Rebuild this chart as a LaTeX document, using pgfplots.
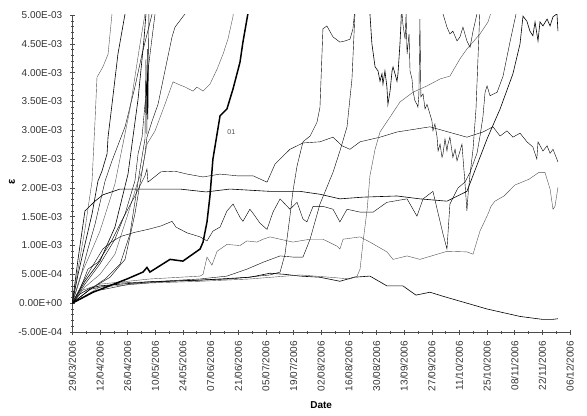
\documentclass[border=0pt]{standalone}
\usepackage{pgfplots}
\pgfplotsset{compat=1.18}
\usepackage{fontspec}
\setmainfont{Liberation Sans}
\definecolor{ln}{HTML}{505050}
\begin{document}
\begin{tikzpicture}[x=1bp,y=1bp]
\path[use as bounding box] (-72.3bp,-84bp) rectangle (514.7bp,332bp);
\begin{axis}[
  at={(0,0)}, anchor=south west,
  scale only axis, width=497.7bp, height=317bp,
  xmin=0, xmax=252, ymin=-0.0005, ymax=0.005,
  scaled y ticks=false, scaled x ticks=false,
  axis x line*=bottom, axis y line*=left,
  axis line style={-, black!70, line width=0.6bp},
  tick align=center,
  major tick length=5bp, minor tick length=3bp,
  every tick/.style={black!70, line width=0.5bp},
  xtick={0,14,...,252},
  xticklabels={29/03/2006,12/04/2006,26/04/2006,10/05/2006,24/05/2006,07/06/2006,21/06/2006,05/07/2006,19/07/2006,02/08/2006,16/08/2006,30/08/2006,13/09/2006,27/09/2006,11/10/2006,25/10/2006,08/11/2006,22/11/2006,06/12/2006},
  minor x tick num=1,
  ytick={-0.0005,0,0.0005,0.001,0.0015,0.002,0.0025,0.003,0.0035,0.004,0.0045,0.005},
  yticklabels={-5.00E-04,0.00E+00,5.00E-04,1.00E-03,1.50E-03,2.00E-03,2.50E-03,3.00E-03,3.50E-03,4.00E-03,4.50E-03,5.00E-03},
  minor y tick num=4,
  xticklabel shift=3bp, yticklabel shift=4bp,
  xticklabel style={rotate=90, anchor=east, font=\fontsize{10bp}{11bp}\selectfont, text=black!80},
  yticklabel style={font=\fontsize{10bp}{11bp}\selectfont, text=black!80},
  xlabel={\textbf{Date}}, ylabel={\textbf{ε}},
  xlabel style={at={(axis description cs:0.5,-0.230)}, anchor=center, font=\fontsize{10bp}{12bp}\selectfont},
  ylabel style={at={(axis description cs:-0.121,0.473)}, anchor=center, rotate=0, font=\fontsize{11bp}{12bp}\selectfont},
  clip=true,
  cycle list={{color=ln, line width=0.6bp, mark=none, solid}},
]
% early steep lines
\addplot coordinates {(0,0)(2.9,0.59e-3)(6.4,1.28e-3)(10.0,2.12e-3)(11.5,3.16e-3)(12.5,3.92e-3)(15.5,4.10e-3)(18.1,4.32e-3)(20.1,5.02e-3)(20.6,5.28e-3)};
\addplot coordinates {(0,0)(2.9,0.50e-3)(6.4,1.02e-3)(10.0,1.55e-3)(13.0,2.12e-3)(15.0,2.29e-3)(17.6,2.59e-3)(18.1,2.88e-3)(20.1,3.45e-3)(23.1,4.32e-3)(26.7,5.02e-3)(27.2,5.28e-3)};
\addplot coordinates {(0,0)(3.9,0.42e-3)(7.9,0.94e-3)(11.5,1.37e-3)(16.6,2.12e-3)(20.1,2.47e-3)(26.7,3.06e-3)(31.7,3.75e-3)(35.3,4.32e-3)(40.4,5.02e-3)(40.9,5.28e-3)};
\addplot coordinates {(0,0)(6.4,0.33e-3)(14.0,0.68e-3)(21.6,1.11e-3)(26.7,1.55e-3)(31.7,2.12e-3)(33.3,2.59e-3)(35.3,2.88e-3)(36.8,3.45e-3)(38.3,4.03e-3)(41.9,5.02e-3)(42.4,5.28e-3)};
\addplot coordinates {(0,0)(3.9,0.45e-3)(9.0,0.85e-3)(14.0,1.25e-3)(21.6,2.07e-3)(29.2,3.37e-3)(34.3,4.50e-3)(36.8,5.02e-3)(37.3,5.28e-3)};
\addplot coordinates {(0,0)(6.4,0.38e-3)(14.0,0.73e-3)(21.6,1.32e-3)(28.2,2.24e-3)(33.3,3.54e-3)(36.3,4.58e-3)(37.3,5.02e-3)(37.8,5.28e-3)};
\addplot coordinates {(0,0)(9.0,0.24e-3)(16.6,0.42e-3)(24.2,0.68e-3)(29.2,1.20e-3)(34.3,2.33e-3)(36.8,2.85e-3)(37.3,4.24e-3)(37.8,2.93e-3)(38.0,4.41e-3)(38.3,3.19e-3)(38.8,5.02e-3)(39.3,5.28e-3)};
\addplot coordinates {(0,0)(9.0,0.24e-3)(19.1,0.45e-3)(26.7,0.76e-3)(31.7,1.55e-3)(36.8,2.59e-3)(37.8,2.88e-3)(40.4,3.16e-3)(43.4,3.45e-3)(46.9,4.03e-3)(50.5,4.62e-3)(52.0,4.79e-3)(57.1,5.02e-3)(58.1,5.28e-3)};
% plateau line
\addplot coordinates {(0,0)(6.4,0.28e-3)(14.0,0.50e-3)(21.6,0.85e-3)(28.2,1.55e-3)(33.3,2.12e-3)(35.3,2.29e-3)(37.8,2.76e-3)(41.9,2.99e-3)(46.9,3.45e-3)(51.0,3.84e-3)(53.5,3.80e-3)(57.1,3.75e-3)(61.1,3.68e-3)(63.1,3.75e-3)(66.2,3.68e-3)(69.7,3.80e-3)(73.3,4.06e-3)(76.3,4.32e-3)(78.8,4.58e-3)(81.4,4.98e-3)(81.9,5.28e-3)};
% M1
\addplot coordinates {(0,0)(2.9,0.76e-3)(6.4,1.60e-3)(11.5,1.77e-3)(15.5,1.88e-3)(24.2,1.98e-3)(39.3,1.98e-3)(54.5,1.98e-3)(67.7,1.93e-3)(79.8,1.98e-3)(100.1,1.94e-3)(115.3,1.94e-3)(125.4,1.89e-3)(135.5,1.81e-3)(147.2,1.84e-3)(164.4,1.86e-3)(176,1.81e-3)(189.7,1.77e-3)(199.8,1.94e-3)(210,2.85e-3)(216.6,3.37e-3)(223.1,3.98e-3)(226.7,4.50e-3)(228.2,4.98e-3)(230.2,4.89e-3)(231.7,4.72e-3)(233.2,4.64e-3)(234.3,4.88e-3)(235.8,4.55e-3)(236.8,4.88e-3)(238.3,4.81e-3)(240.4,4.93e-3)(241.9,4.81e-3)(243.4,4.97e-3)(245.4,5.02e-3)(245.9,4.72e-3)};
% M2
\addplot coordinates {(0,0)(3.9,0.24e-3)(7.9,0.59e-3)(13,0.71e-3)(19.6,1.06e-3)(24.7,1.41e-3)(31.7,1.86e-3)(36.8,2.21e-3)(37.8,2.33e-3)(38.3,2.10e-3)(44.9,2.28e-3)(52,2.29e-3)(58.1,2.24e-3)(66.2,2.19e-3)(74.8,2.24e-3)(83.4,2.21e-3)(91.5,2.21e-3)(98.6,2.10e-3)(102.6,2.41e-3)(105.2,2.50e-3)(110.2,2.67e-3)(116.8,2.78e-3)(125.4,2.80e-3)(132,2.88e-3)(136.6,2.73e-3)(140.6,2.67e-3)(145.7,2.80e-3)(155.8,2.88e-3)(164.4,2.97e-3)(181.1,3.06e-3)(199.8,2.88e-3)(207.9,2.97e-3)(213,3.06e-3)(216.6,2.90e-3)(220.1,2.99e-3)(223.1,2.88e-3)(226.7,2.95e-3)(230.2,2.80e-3)(233.2,2.71e-3)(235.2,2.50e-3)(235.8,2.80e-3)(238.3,2.64e-3)(240.4,2.73e-3)(241.9,2.60e-3)(243.4,2.67e-3)(245.9,2.45e-3)};
% M3
\addplot coordinates {(0,0)(4.9,0.33e-3)(10,0.63e-3)(15.5,0.94e-3)(19.6,1.06e-3)(24.7,1.16e-3)(31.7,1.23e-3)(38.3,1.28e-3)(44.9,1.34e-3)(50.5,1.42e-3)(52.5,1.32e-3)(58.1,1.22e-3)(64.7,1.15e-3)(68.2,1.08e-3)(71.2,1.25e-3)(74.8,1.32e-3)(78.3,1.60e-3)(81.4,1.72e-3)(84.9,1.49e-3)(86.4,1.42e-3)(89.9,1.63e-3)(91.5,1.56e-3)(95,1.39e-3)(98.6,1.28e-3)(101.6,1.58e-3)(105.2,1.81e-3)(110.2,1.63e-3)(113.8,1.75e-3)(116.8,1.46e-3)(118.8,1.41e-3)(121.9,1.68e-3)(126.9,1.68e-3)(132,1.63e-3)(135.5,1.41e-3)(139.1,1.63e-3)(145.7,1.58e-3)(152.3,1.58e-3)(159.3,1.75e-3)(169.5,1.81e-3)(174.5,1.51e-3)(177.6,1.81e-3)(182.6,1.94e-3)(187.7,1.20e-3)(189.7,0.94e-3)(191.2,1.72e-3)(195.3,2.00e-3)(198.8,2.10e-3)(201.4,2.27e-3)(204.9,2.60e-3)(206.4,2.89e-3)(207.9,3.23e-3)(209,3.66e-3)(210,3.77e-3)(211.5,3.60e-3)(215.1,3.66e-3)(218.1,3.94e-3)(221.6,4.53e-3)(225.2,5.10e-3)};
% F8
\addplot coordinates {(0,0)(3.9,0.21e-3)(14,0.33e-3)(39.3,0.42e-3)(64.7,0.47e-3)(66.2,0.50e-3)(68.2,0.80e-3)(70.7,0.66e-3)(73.3,0.90e-3)(78.3,1.02e-3)(84.9,1.00e-3)(88.4,1.08e-3)(93.5,1.06e-3)(96.6,1.11e-3)(100.1,1.15e-3)(105.2,1.11e-3)(111.7,1.06e-3)(120.4,1.11e-3)(126.9,1.11e-3)(134,0.99e-3)(135.5,0.94e-3)(137.1,1.11e-3)(145.7,1.15e-3)(150.7,1.06e-3)(159.3,0.89e-3)(162.4,0.76e-3)(169.5,0.82e-3)(176,0.76e-3)(189.7,0.90e-3)(199.8,0.89e-3)(202.9,0.85e-3)(206.4,1.25e-3)(210.5,1.55e-3)(212,1.68e-3)(214,1.77e-3)(218.6,1.86e-3)(224.1,2.05e-3)(231.2,2.15e-3)(236.3,2.27e-3)(239.3,2.27e-3)(241.9,1.98e-3)(243.4,1.63e-3)(244.4,1.68e-3)(245.9,2.01e-3)};
% F7 declining
\addplot coordinates {(0,0)(3.9,0.16e-3)(9,0.26e-3)(14,0.30e-3)(24.2,0.33e-3)(39.3,0.37e-3)(64.7,0.40e-3)(89.9,0.45e-3)(100.1,0.52e-3)(107.7,0.50e-3)(115.3,0.47e-3)(125.4,0.45e-3)(135.5,0.38e-3)(142.6,0.45e-3)(150.7,0.47e-3)(159.3,0.30e-3)(167.4,0.30e-3)(174,0.14e-3)(181.1,0.19e-3)(187.7,0.12e-3)(197.8,0.02e-3)(209.9,-0.10e-3)(226.7,-0.23e-3)(237.8,-0.28e-3)(243.4,-0.28e-3)(245.9,-0.27e-3)};
% F13
\addplot coordinates {(0,0)(9,0.24e-3)(24.2,0.35e-3)(44.4,0.38e-3)(64.7,0.42e-3)(78.3,0.47e-3)(88.4,0.59e-3)(96.6,0.71e-3)(105.2,0.82e-3)(111.7,0.80e-3)(116.8,0.80e-3)(120.4,1.11e-3)(125.4,1.72e-3)(132,2.27e-3)(135.5,2.64e-3)(139.1,3.06e-3)(141.6,3.89e-3)(143.1,5.02e-3)(144.2,5.30e-3)};
% F9
\addplot coordinates {(0,0)(11.5,0.21e-3)(29.2,0.33e-3)(49.5,0.38e-3)(79.8,0.42e-3)(100.1,0.49e-3)(105.2,0.54e-3)(107.7,0.85e-3)(110.2,1.51e-3)(111.7,1.94e-3)(113.8,2.38e-3)(116.8,2.80e-3)(120.4,2.90e-3)(123.9,3.14e-3)(125.4,3.40e-3)(126.9,4.76e-3)(128.9,4.81e-3)(132,4.62e-3)(135.5,4.53e-3)(138.1,4.55e-3)(140.6,4.58e-3)(142.1,4.76e-3)(143.1,5.10e-3)};
% F11
\addplot coordinates {(0,0)(14,0.28e-3)(39.3,0.35e-3)(64.7,0.38e-3)(89.9,0.42e-3)(115.3,0.49e-3)(130.5,0.45e-3)(140.6,0.42e-3)(144.2,0.47e-3)(145.7,0.59e-3)(147.2,1.06e-3)(149.3,1.63e-3)(150.7,2.21e-3)(153.3,2.67e-3)(155.8,2.97e-3)(160.9,3.23e-3)(165.9,3.49e-3)(172.5,3.66e-3)(179.6,3.77e-3)(186.2,3.89e-3)(191.2,3.94e-3)(196.3,4.24e-3)(199.8,4.41e-3)(206.4,4.67e-3)(210.5,4.88e-3)(212.5,5.10e-3)};
% F10
\addplot coordinates {(149.7,5.28e-3)(150.7,5.02e-3)(151.7,4.50e-3)(153.3,4.10e-3)(154.8,4.03e-3)(155.8,3.85e-3)(156.8,3.98e-3)(157.3,3.80e-3)(158.3,4.03e-3)(159.3,3.75e-3)(159.8,3.45e-3)(160.9,3.68e-3)(161.9,4.03e-3)(162.4,4.10e-3)(163.4,3.98e-3)(164.4,3.85e-3)(164.9,3.98e-3)(165.9,4.50e-3)(166.4,4.84e-3)(166.9,5.28e-3)};
% F15
\addplot coordinates {(166.4,5.28e-3)(167.4,4.84e-3)(168.5,4.58e-3)(169.0,5.02e-3)(169.5,4.32e-3)(170.5,4.67e-3)(171.0,4.03e-3)(172.0,3.89e-3)(172.5,3.68e-3)(173.5,3.51e-3)(174.5,3.45e-3)(175.0,3.40e-3)(175.5,3.63e-3)(176.0,4.93e-3)(176.5,3.58e-3)(177.6,3.63e-3)(178.6,3.37e-3)(179.6,3.45e-3)(181.1,3.28e-3)(182.1,3.16e-3)(182.6,2.99e-3)(183.6,3.11e-3)(184.7,2.88e-3)(185.2,2.64e-3)(186.2,2.76e-3)(187.2,2.53e-3)(187.7,2.59e-3)(188.7,2.85e-3)(189.7,2.64e-3)(190.2,2.76e-3)(191.2,2.88e-3)(192.2,2.64e-3)(192.7,2.53e-3)(193.8,2.67e-3)(194.8,2.47e-3)(196.3,2.64e-3)(197.3,2.76e-3)(197.8,2.53e-3)(198.8,2.10e-3)(199.8,1.60e-3)(200.4,1.89e-3)(201.4,2.24e-3)(202.9,2.67e-3)(204.4,3.37e-3)(205.4,4.24e-3)(206.4,5.10e-3)(206.9,5.28e-3)};
% F14
\addplot coordinates {(186.7,5.28e-3)(187.7,5.02e-3)(189.7,4.79e-3)(191.2,4.67e-3)(192.7,4.72e-3)(194.8,4.55e-3)(196.3,4.62e-3)(197.8,4.79e-3)(199.8,4.55e-3)(201.4,4.44e-3)(202.9,4.72e-3)(204.9,5.02e-3)(205.9,5.28e-3)};
% thick line 01
\addplot[black, line width=1.5bp] coordinates {(0,0)(10.5,0.19e-3)(27.7,0.42e-3)(35.8,0.54e-3)(37.8,0.62e-3)(39.3,0.54e-3)(49.5,0.76e-3)(56,0.73e-3)(64.7,0.94e-3)(66.2,1.06e-3)(68.2,1.41e-3)(69.7,1.86e-3)(71.2,2.50e-3)(74.8,3.25e-3)(78.3,3.37e-3)(81.4,3.72e-3)(84.9,4.18e-3)(86.4,4.53e-3)(88.9,5.02e-3)(89.4,5.28e-3)};
\node[font=\fontsize{7bp}{8bp}\selectfont, text=black!70] at (axis cs:80.5,2.97e-3) {01};
\end{axis}
\end{tikzpicture}
\end{document}
